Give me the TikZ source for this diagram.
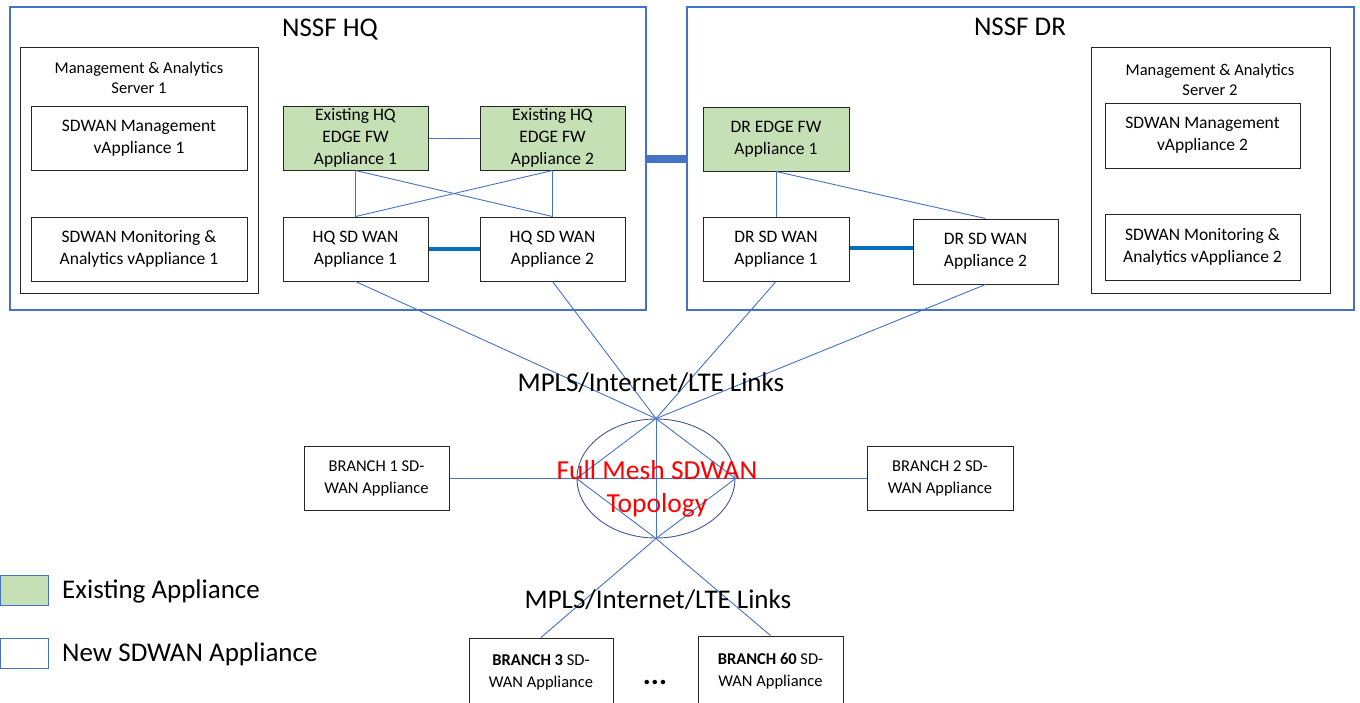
\documentclass[tikz,border=0pt]{standalone}
\usepackage{fontspec}
\setmainfont{Carlito}
\usetikzlibrary{shapes.geometric}
\definecolor{obl}{HTML}{4472C4}
\definecolor{tbl}{HTML}{0070C0}
\definecolor{grn}{HTML}{C5E0B4}
\definecolor{bd}{HTML}{262626}
\definecolor{ell}{HTML}{41598C}
\begin{document}
\begin{tikzpicture}[x=1pt,y=-1pt,
  box/.style={draw=bd, line width=1pt, align=center, inner sep=0pt, font=\fontsize{17.5}{22}\selectfont},
  exist/.style={box, fill=grn},
  outer/.style={draw=obl, line width=1.2pt, inner sep=0pt},
  server/.style={draw=bd, line width=1pt, inner sep=0pt},
  small/.style={align=center, inner sep=0pt, font=\fontsize{16.5}{20}\selectfont},
  title/.style={inner sep=0pt, font=\fontsize{27}{32}\selectfont},
  branch/.style={box, font=\fontsize{16.5}{22}\selectfont},
  link/.style={draw=obl, line width=0.9pt},
  thick/.style={draw=tbl, line width=4pt},
]
\useasboundingbox (0,0) rectangle (1360,702);
\clip (0,0) rectangle (1360,702);

% outer sites
\node[outer, minimum width=636, minimum height=303] (hq) at (328,158.5) {};
\node[outer, minimum width=667, minimum height=303] (dr) at (1020.5,158.5) {};
\node[title] (hqt) at (330,30) {NSSF HQ};
\node[title] (drt) at (1020,27) {NSSF DR};
\draw[obl, line width=8pt] (hq.east) -- (dr.west);

% HQ servers
\node[server, minimum width=238, minimum height=246] (srv1) at (139,170) {};
\node[small] (srv1t) at (139,78) {Management \& Analytics\\Server 1};
\node[box, minimum width=216, minimum height=64] (mgm1) at (139,138) {SDWAN Management\\vAppliance 1};
\node[box, minimum width=216, minimum height=64] (mon1) at (139,249) {SDWAN Monitoring \&\\Analytics vAppliance 1};

% HQ appliances
\node[exist, minimum width=145, minimum height=64] (fw1) at (355.5,138) {Existing HQ\\EDGE FW\\Appliance 1};
\node[exist, minimum width=145, minimum height=64] (fw2) at (552.5,138) {Existing HQ\\EDGE FW\\Appliance 2};
\node[box, minimum width=145, minimum height=64] (sd1) at (355.5,249) {HQ SD WAN\\Appliance 1};
\node[box, minimum width=145, minimum height=64] (sd2) at (552.5,249) {HQ SD WAN\\Appliance 2};
\draw[link] (fw1) -- (fw2);
\draw[link] (fw1.south) -- (sd1.north);
\draw[link] (fw2.south) -- (sd2.north);
\draw[link] (fw1.south) -- (sd2.north);
\draw[link] (fw2.south) -- (sd1.north);
\draw[thick] (sd1) -- (sd2);

% DR appliances
\node[exist, minimum width=146, minimum height=64] (drfw) at (776,139) {DR EDGE FW\\Appliance 1};
\node[box, minimum width=146, minimum height=64] (drsd1) at (776,249) {DR SD WAN\\Appliance 1};
\node[box, minimum width=145, minimum height=65] (drsd2) at (985.5,251.5) {DR SD WAN\\Appliance 2};
\draw[link] (drfw.south) -- (drsd1.north);
\draw[link] (drfw.south) -- (drsd2.north);
\draw[thick] (drsd1.east |- 0,248) -- (drsd2.west |- 0,248);

% DR servers
\node[server, minimum width=239, minimum height=246] (srv2) at (1210.5,170) {};
\node[small] (srv2t) at (1210,80) {Management \& Analytics\\Server 2};
\node[box, minimum width=195, minimum height=65] (mgm2) at (1202.5,135.5) {SDWAN Management\\vAppliance 2};
\node[box, minimum width=195, minimum height=66] (mon2) at (1202.5,247) {SDWAN Monitoring \&\\Analytics vAppliance 2};

% mesh
\node[draw=ell, line width=0.9pt, ellipse, minimum width=158, minimum height=119, inner sep=0pt] (mesh) at (656,478.5) {};
\draw[link] (sd1.south) -- (mesh.north);
\draw[link] (sd2.south) -- (mesh.north);
\draw[link] (drsd1.south) -- (mesh.north);
\draw[link] (drsd2.south) -- (mesh.north);
\draw[link] (mesh.north) -- (mesh.south);
\draw[link] (mesh.north) -- (mesh.west) -- (mesh.south) -- (mesh.east) -- cycle;

\node[branch, minimum width=145, minimum height=64] (br1) at (376.5,478) {BRANCH 1 SD-\\WAN Appliance};
\node[branch, minimum width=146, minimum height=64] (br2) at (940,478) {BRANCH 2 SD-\\WAN Appliance};
\node[branch, minimum width=144, minimum height=68] (br3) at (541,672) {\textbf{BRANCH 3} SD-\\WAN Appliance};
\node[branch, minimum width=145, minimum height=70] (br60) at (770.5,671) {\textbf{BRANCH 60} SD-\\WAN Appliance};
\draw[link] (br1.east) -- (br2.west);
\draw[link] (mesh.south) -- (br3.north);
\draw[link] (mesh.south) -- (br60.north);
\node[title, font=\fontsize{30}{32}\selectfont] (dots) at (655,682) {\textbf{...}};

\node[title] (mpls1) at (651,383) {MPLS/Internet/LTE Links};
\node[title] (mpls2) at (658,600) {MPLS/Internet/LTE Links};
\node[title, text=red, align=center, font=\fontsize{27.5}{33}\selectfont] (meshtxt) at (657,489) {Full Mesh SDWAN\\Topology};

% legend
\node[draw=obl, line width=1pt, fill=grn, minimum width=48, minimum height=30, inner sep=0pt] (lg1) at (24,590) {};
\node[draw=obl, line width=1pt, fill=white, minimum width=48, minimum height=30, inner sep=0pt] (lg2) at (24,653) {};
\node[title, anchor=west] (lg1t) at (62,591) {Existing Appliance};
\node[title, anchor=west] (lg2t) at (62,654) {New SDWAN Appliance};
\end{tikzpicture}
\end{document}
